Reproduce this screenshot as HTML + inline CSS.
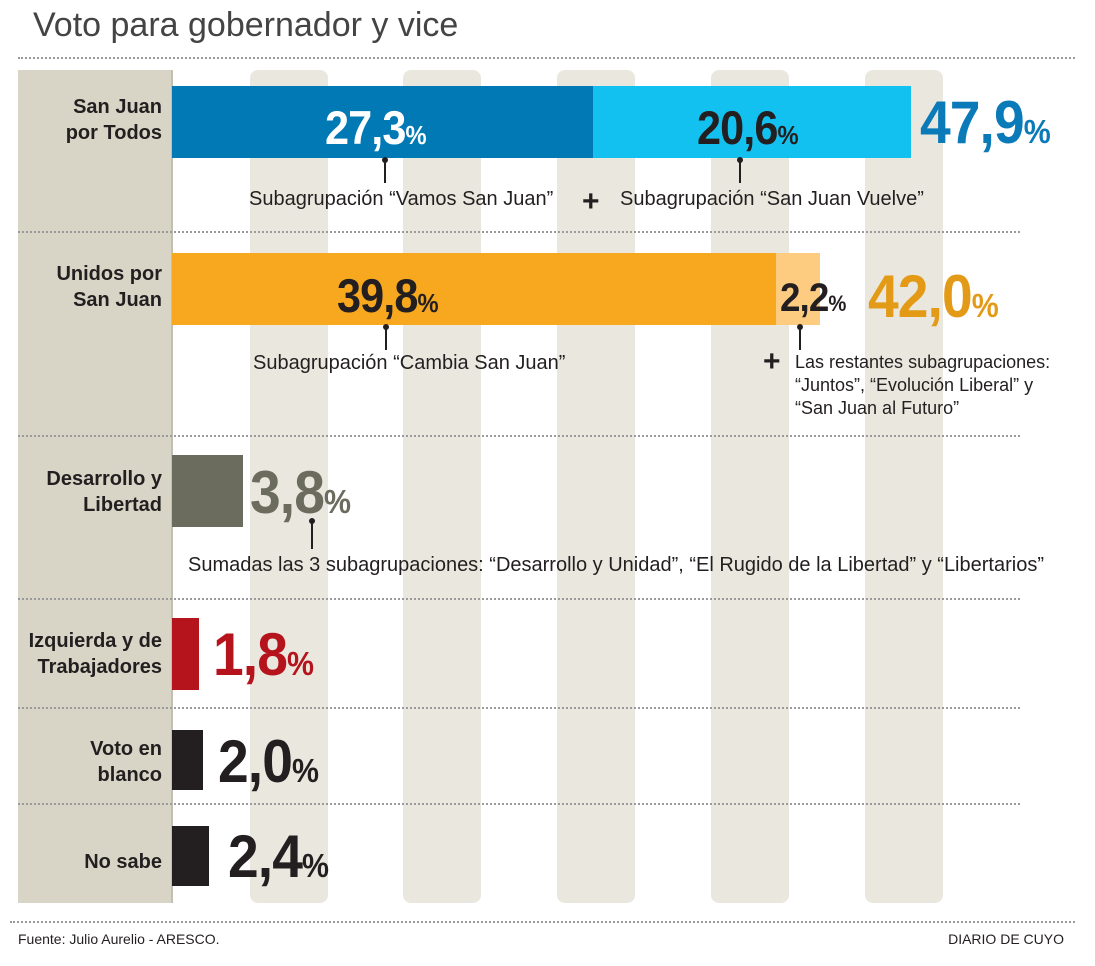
<!DOCTYPE html>
<html><head><meta charset="utf-8"><style>
body{margin:0;width:1095px;height:966px;background:#fff;position:relative;overflow:hidden;font-family:"Liberation Sans",sans-serif;}
div{position:absolute;}
.dot{height:0;border-top:2px dotted #9a9a9a;}
.col{background:#eae7df;border-radius:8px;top:70px;height:833px;width:78px;}
.lab{right:933px;text-align:right;font-weight:bold;font-size:20px;line-height:26px;color:#231f20;}
.n{font-weight:bold;white-space:nowrap;letter-spacing:-1px;transform-origin:left top;transform:scaleX(0.92);}
.n span{font-size:0.55em;letter-spacing:0;}
.s{font-size:20px;color:#231f20;white-space:nowrap;line-height:23px;}
.ld{width:2px;background:#231f20;}
.pd{width:6px;height:6px;border-radius:3px;background:#231f20;}
.plus{font-size:30px;font-weight:bold;color:#231f20;line-height:30px;}
</style></head><body>
<div style="left:33px;top:6px;font-size:34px;color:#444;">Voto para gobernador y vice</div>
<div class="dot" style="left:18px;top:57px;width:1057px;"></div>
<div style="left:18px;top:70px;width:153px;height:833px;background:#d9d5c6;border-right:2px solid #c2beb0;"></div>
<div class="col" style="left:250px"></div>
<div class="col" style="left:403px"></div>
<div class="col" style="left:557px"></div>
<div class="col" style="left:711px"></div>
<div class="col" style="left:865px"></div>
<div class="dot" style="left:18px;top:231px;width:1002px;"></div>
<div class="dot" style="left:18px;top:435px;width:1002px;"></div>
<div class="dot" style="left:18px;top:598px;width:1002px;"></div>
<div class="dot" style="left:18px;top:707px;width:1002px;"></div>
<div class="dot" style="left:18px;top:803px;width:1002px;"></div>
<div class="dot" style="left:10px;top:921px;width:1065px;"></div>

<!-- row1 -->
<div class="lab" style="top:94px;">San Juan<br>por Todos</div>
<div style="left:172px;top:86px;width:421px;height:72px;background:#0079b5;"></div>
<div style="left:593px;top:86px;width:318px;height:72px;background:#13c1f0;"></div>
<div class="n" style="left:325px;top:100px;font-size:47px;color:#fff;">27,3<span>%</span></div>
<div class="n" style="left:697px;top:100px;font-size:47px;color:#231f20;">20,6<span>%</span></div>
<div class="n" style="left:920px;top:88px;font-size:60px;color:#0a7ab8;">47,9<span>%</span></div>
<div class="pd" style="left:382px;top:157px;"></div><div class="ld" style="left:384px;top:158px;height:25px;"></div>
<div class="pd" style="left:737px;top:157px;"></div><div class="ld" style="left:739px;top:158px;height:25px;"></div>
<div class="s" style="left:249px;top:188px;">Subagrupación “Vamos San Juan”</div>
<div class="plus" style="left:582px;top:187px;">+</div>
<div class="s" style="left:620px;top:188px;">Subagrupación “San Juan Vuelve”</div>

<!-- row2 -->
<div class="lab" style="top:261px;">Unidos por<br>San Juan</div>
<div style="left:172px;top:253px;width:604px;height:72px;background:#f7a81f;"></div>
<div style="left:776px;top:253px;width:44px;height:72px;background:#fecc80;"></div>
<div class="n" style="left:337px;top:268px;font-size:47px;color:#231f20;">39,8<span>%</span></div>
<div class="n" style="left:780px;top:276px;font-size:40px;color:#231f20;">2,2<span>%</span></div>
<div class="n" style="left:868px;top:262px;font-size:60px;color:#e39b17;">42,0<span>%</span></div>
<div class="pd" style="left:383px;top:324px;"></div><div class="ld" style="left:385px;top:325px;height:25px;"></div>
<div class="pd" style="left:797px;top:324px;"></div><div class="ld" style="left:799px;top:325px;height:25px;"></div>
<div class="s" style="left:253px;top:352px;">Subagrupación “Cambia San Juan”</div>
<div class="plus" style="left:763px;top:347px;">+</div>
<div class="s" style="left:795px;top:351px;font-size:18px;">Las restantes subagrupaciones:<br>“Juntos”, “Evolución Liberal” y<br>“San Juan al Futuro”</div>

<!-- row3 -->
<div class="lab" style="top:466px;">Desarrollo y<br>Libertad</div>
<div style="left:172px;top:455px;width:71px;height:72px;background:#6b6b5e;"></div>
<div class="n" style="left:250px;top:458px;font-size:60px;color:#6b6b5e;">3,8<span>%</span></div>
<div class="pd" style="left:309px;top:518px;"></div><div class="ld" style="left:311px;top:519px;height:30px;"></div>
<div class="s" style="left:188px;top:554px;">Sumadas las 3 subagrupaciones: “Desarrollo y Unidad”, “El Rugido de la Libertad” y “Libertarios”</div>

<!-- row4 -->
<div class="lab" style="top:628px;">Izquierda y de<br>Trabajadores</div>
<div style="left:172px;top:618px;width:27px;height:72px;background:#b5141c;"></div>
<div class="n" style="left:213px;top:620px;font-size:60px;color:#b5141c;">1,8<span>%</span></div>

<!-- row5 -->
<div class="lab" style="top:736px;">Voto en<br>blanco</div>
<div style="left:172px;top:730px;width:31px;height:60px;background:#231f20;"></div>
<div class="n" style="left:218px;top:727px;font-size:60px;color:#231f20;">2,0<span>%</span></div>

<!-- row6 -->
<div class="lab" style="top:849px;">No sabe</div>
<div style="left:172px;top:826px;width:37px;height:60px;background:#231f20;"></div>
<div class="n" style="left:228px;top:822px;font-size:60px;color:#231f20;">2,4<span>%</span></div>

<div style="left:18px;top:931px;font-size:14px;color:#231f20;">Fuente: Julio Aurelio - ARESCO.</div>
<div style="right:31px;top:931px;font-size:14px;color:#231f20;">DIARIO DE CUYO</div>
</body></html>
